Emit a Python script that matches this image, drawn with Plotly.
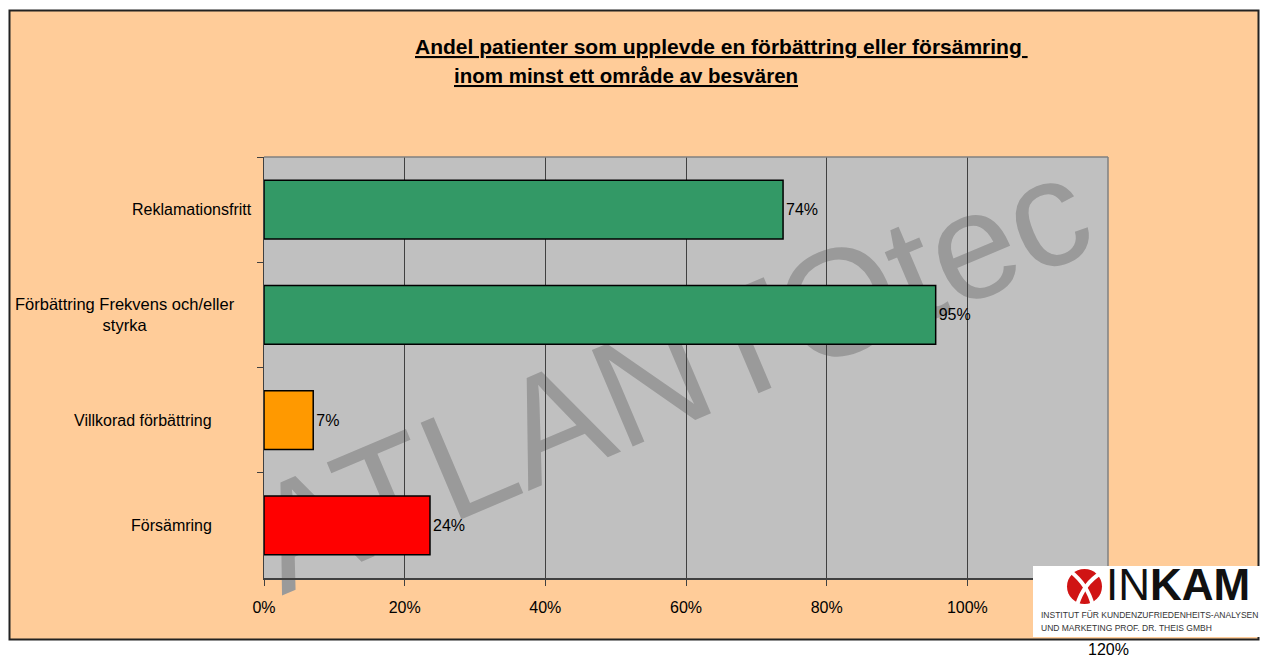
import plotly.graph_objects as go

# ---- data ----
categories = ["Reklamationsfritt", "Förbättring Frekvens och/eller styrka",
              "Villkorad förbättring", "Försämring"]
values = [73.8, 95.5, 7.0, 23.6]
value_labels = ["74%", "95%", "7%", "24%"]
bar_colors = ["#339966", "#339966", "#FF9900", "#FF0000"]
x_tick_vals = [0, 20, 40, 60, 80, 100]
x_tick_text = ["0%", "20%", "40%", "60%", "80%", "100%"]

W, H = 1261, 657
L, R, T, B = 264, 1108, 157, 578   # plot area in pixels


def px(xp):
    return (xp - L) / (R - L)


def py(yp):
    return (B - yp) / (B - T)


FONT = "Liberation Sans, Arial, sans-serif"

fig = go.Figure()
fig.add_trace(go.Bar(
    y=categories, x=values, orientation="h",
    marker=dict(color=bar_colors, line=dict(color="#000000", width=1.5)),
    width=0.56,
    text=value_labels, textposition="outside",
    textfont=dict(size=16, color="#000000", family=FONT),
    cliponaxis=False, hoverinfo="skip",
))

shapes = []
# white surroundings outside the peach frame
for (x0, y0, x1, y1) in [(0, 0, W, 10), (0, 0, 9, H), (1259, 0, W, H), (0, 640, W, H)]:
    shapes.append(dict(type="rect", xref="paper", yref="paper",
                       x0=px(x0), x1=px(x1), y0=py(y0), y1=py(y1),
                       fillcolor="white", line=dict(width=0), layer="above"))
# black frame
shapes.append(dict(type="rect", xref="paper", yref="paper",
                   x0=px(9.5), x1=px(1258.5), y0=py(10.5), y1=py(639.5),
                   line=dict(color="#222222", width=2), layer="above"))
# plot area top/right border
shapes.append(dict(type="line", xref="paper", yref="paper", x0=0, x1=1, y0=1, y1=1,
                   line=dict(color="#808080", width=1.5), layer="above"))
shapes.append(dict(type="line", xref="paper", yref="paper", x0=1, x1=1, y0=0, y1=1,
                   line=dict(color="#808080", width=1.5), layer="above"))
# watermark (behind bars)
shapes.append(dict(type="rect", xref="paper", yref="paper",
                   x0=px(565), x1=px(765), y0=py(410), y1=py(310),
                   line=dict(width=0), fillcolor="rgba(0,0,0,0)", layer="below",
                   label=dict(text="ATLANTOtec", textangle=-23,
                              font=dict(size=152, color="#9A9A9A", family=FONT))))
# logo box
shapes.append(dict(type="rect", xref="paper", yref="paper",
                   x0=px(1033), x1=px(1261), y0=py(566), y1=py(637),
                   fillcolor="white", line=dict(width=0), layer="above"))
# logo emblem
shapes.append(dict(type="circle", xref="paper", yref="paper",
                   x0=px(1067), x1=px(1102), y0=py(569), y1=py(604),
                   fillcolor="#D01414", line=dict(width=0), layer="above"))
shapes.append(dict(type="path", xref="paper", yref="paper",
                   path=f"M {px(1070)},{py(571)} Q {px(1088)},{py(585)} {px(1093)},{py(606)}",
                   line=dict(color="white", width=4), layer="above"))
shapes.append(dict(type="path", xref="paper", yref="paper",
                   path=f"M {px(1101)},{py(573)} Q {px(1084)},{py(583)} {px(1077)},{py(605)}",
                   line=dict(color="white", width=4), layer="above"))

annotations = []
# title
annotations.append(dict(xref="paper", yref="paper", x=px(413), y=py(46), xanchor="left",
                        yanchor="middle", showarrow=False,
                        text="<b><u>Andel patienter som upplevde en förbättring eller försämring </u></b>",
                        font=dict(size=21, color="#000000", family=FONT)))
annotations.append(dict(xref="paper", yref="paper", x=px(452), y=py(75), xanchor="left",
                        yanchor="middle", showarrow=False,
                        text="<b><u>inom minst ett område av besvären</u></b>",
                        font=dict(size=20.5, color="#000000", family=FONT)))
# category labels
cat_label_pos = [(192, "Reklamationsfritt", 16),
                 (125, "Förbättring Frekvens och/eller<br>styrka", 16.5),
                 (143, "Villkorad förbättring", 16),
                 (171, "Försämring", 16)]
for cat, (cx, txt, fs) in zip(categories, cat_label_pos):
    annotations.append(dict(xref="paper", yref="y", x=px(cx), y=cat, xanchor="center",
                            yanchor="middle", showarrow=False, align="center", text=txt,
                            font=dict(size=fs, color="#000000", family=FONT)))
# 120% label (shown below the logo)
annotations.append(dict(xref="x", yref="paper", x=120, y=py(649), xanchor="center",
                        yanchor="middle", showarrow=False, text="120%",
                        font=dict(size=16, color="#000000", family=FONT)))
# logo text
annotations.append(dict(xref="paper", yref="paper", x=px(1104), y=py(584), xanchor="left",
                        yanchor="middle", showarrow=False, text="IN<b>KAM</b>",
                        font=dict(size=44, color="#111111", family=FONT)))
annotations.append(dict(xref="paper", yref="paper", x=px(1039), y=py(615), xanchor="left",
                        yanchor="middle", showarrow=False,
                        text="INSTITUT FÜR KUNDENZUFRIEDENHEITS-ANALYSEN",
                        font=dict(size=8.5, color="#333333", family=FONT)))
annotations.append(dict(xref="paper", yref="paper", x=px(1039), y=py(627.5), xanchor="left",
                        yanchor="middle", showarrow=False,
                        text="UND MARKETING PROF. DR. THEIS GMBH",
                        font=dict(size=8.5, color="#333333", family=FONT)))

fig.update_layout(
    width=W, height=H,
    margin=dict(l=L, r=W - R, t=T, b=H - B, pad=0),
    paper_bgcolor="#FFCC99", plot_bgcolor="#C0C0C0",
    showlegend=False,
    font=dict(family=FONT, size=16, color="#000000"),
    xaxis=dict(range=[0, 120], tickvals=x_tick_vals, ticktext=x_tick_text,
               showgrid=True, gridcolor="#404040", gridwidth=1,
               showline=True, linecolor="#404040", linewidth=2,
               ticks="outside", ticklen=6, tickcolor="#404040", tickwidth=1,
               ticklabelstandoff=8, zeroline=False, fixedrange=True,
               tickfont=dict(size=16, color="#000000", family=FONT)),
    yaxis=dict(type="category", categoryorder="array", categoryarray=categories,
               autorange="reversed", showticklabels=False, showgrid=False,
               showline=True, linecolor="#404040", linewidth=1,
               ticks="outside", tickson="boundaries", ticklen=6, tickcolor="#404040",
               zeroline=False, fixedrange=True),
    shapes=shapes, annotations=annotations,
)

fig.write_html("out.html", config={"displayModeBar": False},
               post_script="document.body.style.margin='0px';document.body.style.overflow='hidden';")
